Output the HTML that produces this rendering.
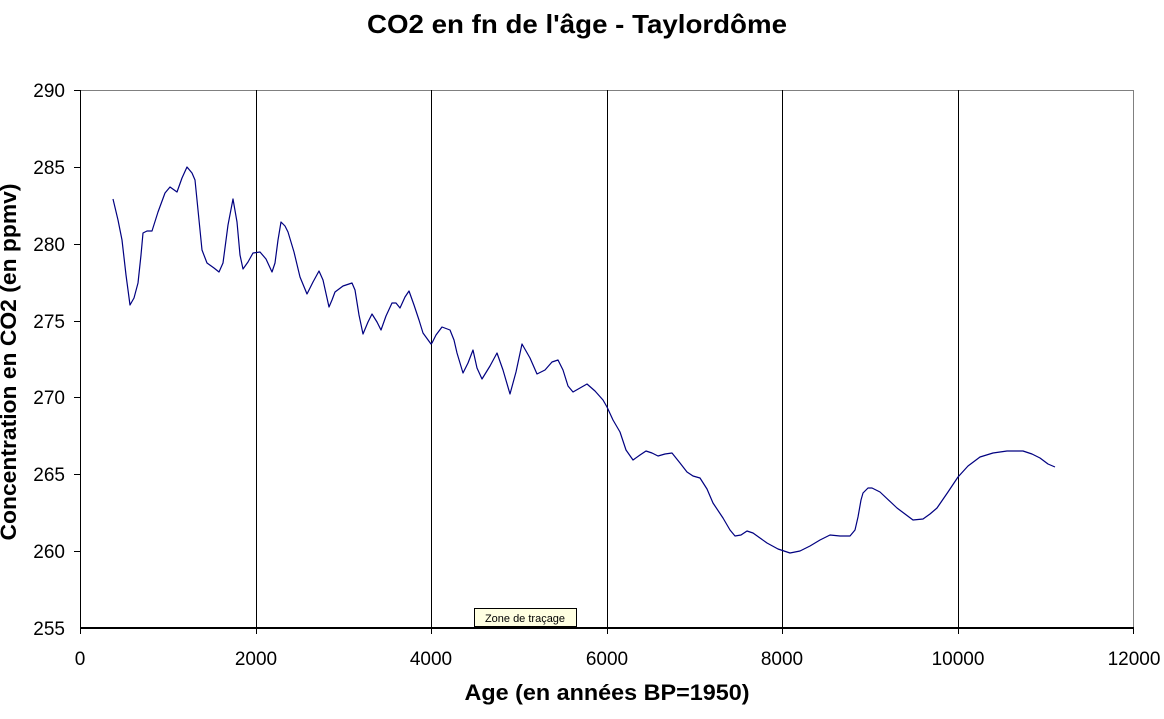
<!DOCTYPE html>
<html><head><meta charset="utf-8"><style>
body{margin:0;background:#fff;}
svg text{font-family:"Liberation Sans",Arial,sans-serif;}
</style></head><body>
<svg width="1164" height="714" xmlns="http://www.w3.org/2000/svg">
<rect width="1164" height="714" fill="#fff"/>
<text x="577" y="33" font-size="26" font-weight="bold" text-anchor="middle" textLength="420" lengthAdjust="spacingAndGlyphs">CO2 en fn de l'âge - Taylordôme</text>
<rect x="80.5" y="90.5" width="1053" height="537" fill="none" stroke="#808080" stroke-width="1" shape-rendering="crispEdges"/>
<g stroke="#000" stroke-width="1" shape-rendering="crispEdges">
<line x1="256.5" y1="90" x2="256.5" y2="628"/>
<line x1="431.5" y1="90" x2="431.5" y2="628"/>
<line x1="607.5" y1="90" x2="607.5" y2="628"/>
<line x1="782.5" y1="90" x2="782.5" y2="628"/>
<line x1="958.5" y1="90" x2="958.5" y2="628"/>
<line x1="80.5" y1="90" x2="80.5" y2="629"/>
<line x1="80" y1="628" x2="1134" y2="628" stroke-width="2"/>
<line x1="74" y1="90.5" x2="80" y2="90.5"/><line x1="74" y1="167.5" x2="80" y2="167.5"/>
<line x1="74" y1="244.5" x2="80" y2="244.5"/><line x1="74" y1="321.5" x2="80" y2="321.5"/>
<line x1="74" y1="397.5" x2="80" y2="397.5"/><line x1="74" y1="474.5" x2="80" y2="474.5"/>
<line x1="74" y1="551.5" x2="80" y2="551.5"/>
<line x1="80.5" y1="628" x2="80.5" y2="634"/><line x1="256.5" y1="628" x2="256.5" y2="634"/>
<line x1="431.5" y1="628" x2="431.5" y2="634"/><line x1="607.5" y1="628" x2="607.5" y2="634"/>
<line x1="782.5" y1="628" x2="782.5" y2="634"/><line x1="958.5" y1="628" x2="958.5" y2="634"/>
<line x1="1133.5" y1="628" x2="1133.5" y2="634"/>
</g>
<g font-size="19" text-anchor="end">
<text x="65" y="97">290</text><text x="65" y="174">285</text><text x="65" y="251">280</text>
<text x="65" y="328">275</text><text x="65" y="404">270</text><text x="65" y="481">265</text>
<text x="65" y="558">260</text><text x="65" y="635">255</text>
</g>
<g font-size="19" text-anchor="middle">
<text x="80" y="665">0</text><text x="256" y="665">2000</text><text x="431" y="665">4000</text>
<text x="607" y="665">6000</text><text x="782" y="665">8000</text><text x="958" y="665">10000</text>
<text x="1134" y="665">12000</text>
</g>
<text x="607" y="700" font-size="22" font-weight="bold" text-anchor="middle" textLength="285" lengthAdjust="spacingAndGlyphs">Age (en années BP=1950)</text>
<text transform="translate(16,362) rotate(-90)" font-size="22" font-weight="bold" text-anchor="middle" textLength="357" lengthAdjust="spacingAndGlyphs">Concentration en CO2 (en ppmv)</text>
<polyline fill="none" stroke="#000080" stroke-width="1.2" stroke-linejoin="round" points="113,199 118,220 122,240 126,275 130,305 134,298 138,283 141,255 143,233 147,231 152,231 158,212 165,193 170,187 177,192 182,178 187,167 192,173 195,180 198,210 202,250 207,263 214,268 219,272 223,263 228,225 233,199 237,222 240,255 243,269 248,262 253,253 260,252 266,259 272,272 275,263 278,240 281,222 285,226 288,232 294,252 300,277 307,294 313,282 319,271 323,280 329,307 332,300 335,292 343,286 352,283 355,290 359,315 363,334 368,322 372,314 377,322 381,330 386,316 392,303 396,303 400,308 405,297 409,291 414,305 419,320 423,333 431,344 432,343 436,335 442,327 450,330 454,340 457,353 463,373 468,363 473,350 477,368 482,379 490,366 497,353 503,370 510,394 516,372 522,344 530,358 537,374 545,370 552,362 558,360 563,370 568,386 573,392 580,388 587,384 595,391 603,400 607,407 613,420 620,432 626,450 633,460 640,455 646,451 652,453 658,456 665,454 672,453 680,463 687,472 693,476 700,478 707,489 713,503 723,518 730,530 735,536 741,535 747,531 753,533 760,538 767,543 778,549 790,553 800,551 810,546 820,540 830,535 840,536 850,536 855,530 858,517 861,500 863,493 868,488 872,488 880,492 897,508 913,520 923,519 930,514 937,508 948,492 958,477 968,466 980,457 993,453 1007,451 1023,451 1032,454 1040,458 1048,464 1055,467"/>
<rect x="474.5" y="608.5" width="102" height="18" fill="#ffffe1" stroke="#000" stroke-width="1"/>
<text x="525" y="622" font-size="11" text-anchor="middle">Zone de traçage</text>
</svg>
</body></html>
